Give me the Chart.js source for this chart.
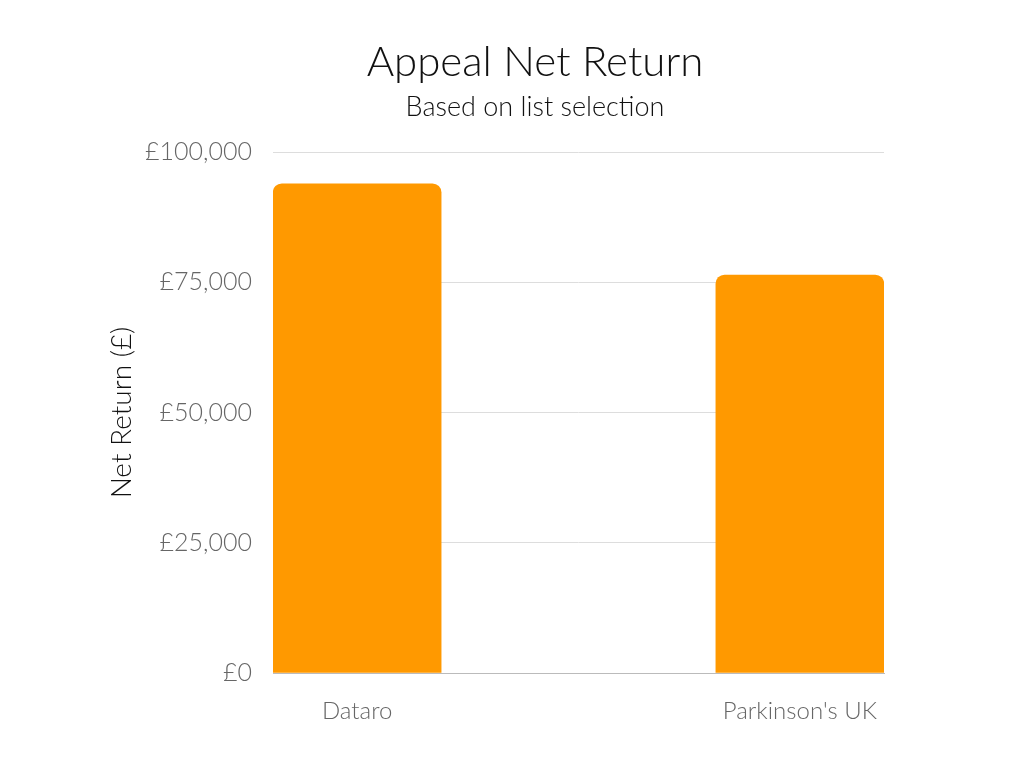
<!DOCTYPE html>
<html>
<head>
<meta charset="utf-8">
<title>Appeal Net Return</title>
<script src="https://cdn.jsdelivr.net/npm/chart.js@4/dist/chart.umd.min.js"></script>
<style>
    body { margin: 0; background: #fff; }
</style>
</head>
<body>
<canvas id="bar-chart" width="1024" height="768"></canvas>
<script>
// list names and their net return
var lists = ["Dataro", "Parkinson's UK"];
var netReturn = [93900, 76400];
var yTicks = [0, 25000, 50000, 75000, 100000];

var fontFamily = "Lato, 'Open Sans', sans-serif";

function money(v) {
    return "£" + Number(v).toLocaleString("en-GB");
}

var points = lists.map(function (name, i) {
    return {x: i, y: netReturn[i]};
});

// the original centres its titles a bit right of the canvas middle
var shiftTitles = {
    id: 'shiftTitles',
    afterLayout: function (chart) {
        chart.boxes.forEach(function (box) {
            if (box.position === 'top' && box.options && box.options.text !== undefined) {
                box.left = 186;
                box.right = 884;
            }
        });
    }
};

new Chart(document.getElementById("bar-chart"), {
    type: 'bar',
    data: {
        datasets: [{
            data: points,
            backgroundColor: "#FF9900",
            borderWidth: 0,
            borderRadius: {topLeft: 9, topRight: 9},
            barThickness: 168
        }]
    },
    plugins: [shiftTitles],
    options: {
        responsive: false,
        animation: false,
        layout: {padding: {left: 0, right: 140, top: 0, bottom: 0}},
        plugins: {
            legend: {display: false},
            tooltip: {enabled: false},
            title: {
                display: true,
                text: 'Appeal Net Return',
                color: "#111",
                font: {family: fontFamily, size: 42, weight: 300},
                padding: {top: 37, bottom: 0}
            },
            subtitle: {
                display: true,
                text: 'Based on list selection',
                color: "#111",
                font: {family: fontFamily, size: 27, weight: 300},
                padding: {top: 3.4, bottom: 28.8}
            }
        },
        scales: {
            x: {
                type: 'linear',
                offset: false,
                min: -0.19,
                max: 1.19,
                grid: {display: false, offset: false},
                border: {display: true, color: "#bbb", width: 1},
                afterBuildTicks: function (scale) {
                    scale.ticks = lists.map(function (n, i) { return {value: i}; });
                },
                afterFit: function (scale) { scale.height = 95; },
                ticks: {
                    color: "#666",
                    padding: 15.6,
                    font: {family: fontFamily, size: 24, weight: 300},
                    callback: function (v) { return lists[v]; }
                }
            },
            y: {
                min: 0,
                max: 100000,
                grid: {color: "#ddd", drawTicks: false},
                border: {display: false},
                afterBuildTicks: function (scale) {
                    scale.ticks = yTicks.map(function (v) { return {value: v}; });
                },
                afterFit: function (scale) { scale.width = 273; },
                ticks: {
                    color: "#666",
                    padding: 21,
                    font: {family: fontFamily, size: 25, weight: 300},
                    callback: money
                },
                title: {
                    display: true,
                    text: 'Net Return (£)',
                    color: "#111",
                    font: {family: fontFamily, size: 28, weight: 300},
                    padding: {top: 105.2, bottom: 0}
                }
            }
        }
    }
});
</script>
</body>
</html>
